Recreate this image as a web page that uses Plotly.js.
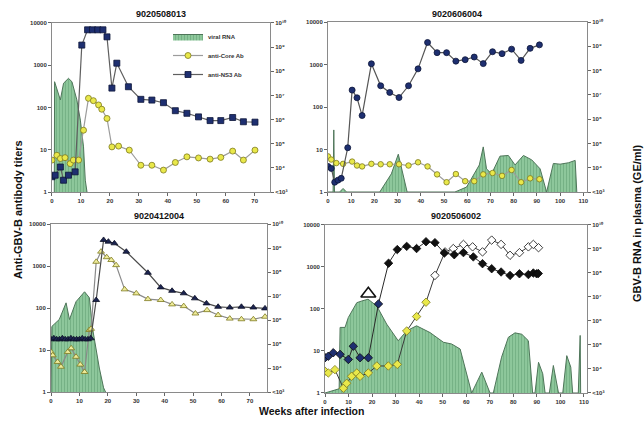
<!DOCTYPE html>
<html><head><meta charset="utf-8">
<script src="https://cdn.plot.ly/plotly-3.0.1.min.js"></script>
<style>html,body{margin:0;padding:0;background:#fff;} #chart{width:644px;height:425px;}</style>
</head><body><div id="chart"></div>
<script>
// ---------- Panel titles & ticks ----------
const panelTitles = ['9020508013', '9020606004', '9020412004', '9020506002'];
const abTickVals = [1, 10, 100, 1000, 10000];
const abTickText = ['1', '10', '100', '1000', '10000'];
const rnaTickVals = [1e3, 1e4, 1e5, 1e6, 1e7, 1e8, 1e9, 1e10];
const rnaTickText = ['<10³', '10⁴', '10⁵', '10⁶', '10⁷', '10⁸', '10⁹', '10¹⁰'];
const seriesNames = ['viral RNA', 'anti-Core Ab', 'anti-NS3 Ab'];

// ---------- 9020508013 (top left) ----------
const tlRnaWeeks = [0.8, 0.9, 2.9, 4, 5.7, 6.9, 8.6, 9.8, 10.9, 11.5, 12.1];
const tlRna      = [1e3, 3.7e7, 6.5e6, 3.2e7, 5.1e7, 3.7e7, 6.5e6, 9.5e5, 7.4e4, 3.1e3, 1e3];
const tlCoreWeeks = [0, 1.7, 2.9, 4.5, 6.3, 7.4, 9.2, 10.9, 12.6, 14.3, 16.1, 17.2, 19, 20.7, 23, 26.7, 30.7, 34.5, 38.5, 42.6, 46.6, 50.6, 54.6, 58.3, 62.4, 66.1, 70.1];
const tlCore      = [5.7, 7.4, 6.2, 6.5, 4.7, 5.7, 5.7, 29, 165, 145, 115, 91, 55, 11.7, 12.2, 9.8, 4.3, 4.3, 3.3, 5, 6.8, 6.4, 6, 6.6, 9.3, 5.7, 9.8];
const tlNs3Weeks = [0, 1.1, 2.9, 4, 5.7, 8, 10.3, 12.3, 14, 15.8, 17.6, 19, 20.7, 22.4, 26.4, 30.7, 34.5, 38.5, 42.6, 46.6, 50.6, 54.6, 58.3, 62.4, 66.1, 70.1];
const tlNs3      = [2.3, 2.5, 3.9, 1.9, 2.5, 3, 3000, 6900, 6900, 6900, 6900, 4700, 288, 1120, 310, 156, 150, 130, 84, 73, 60, 49, 49, 58, 46, 45];

// ---------- 9020606004 (top right) ----------
const trRnaWeeks = [0, 2.2, 2.5, 2.8, 5, 6.5, 8, 22.3, 27.3, 30.3, 34.1, 54.7, 59.7, 65.2, 66.9, 68.3, 70.5, 74.1, 77.7, 80.6, 84.2, 87.8, 91.4, 94.2, 97.1, 100, 103.6, 106.5, 107.2];
const trRna      = [1e3, 1e3, 3.6e5, 1e3, 1e3, 1.4e3, 1e3, 1e3, 5.6e3, 3.6e4, 1e3, 1e3, 1.6e3, 1.3e4, 7.2e4, 9e3, 5.6e3, 3e4, 3.2e4, 1.3e4, 3.2e4, 2.1e4, 9e3, 1e3, 1.5e4, 1.4e4, 1.6e4, 2e4, 1e3];
const trCoreWeeks = [0, 1.4, 3.6, 6.5, 10.4, 12.5, 14.7, 18.7, 22.7, 26.6, 30.6, 34.7, 38.8, 42.9, 47, 51.1, 55.1, 59.1, 63, 66.9, 70.9, 75, 79.1, 83.2, 87.1, 91.1];
const trCore      = [6.9, 5.8, 4.8, 4.6, 5.2, 4.2, 4, 4.6, 4.5, 4.5, 4.5, 4.2, 5, 4, 2.6, 1.7, 2.65, 1.8, 1.8, 2.6, 2.8, 2.4, 3.3, 1.7, 2.1, 2];
const trNs3Weeks = [0, 1.4, 2.9, 4.3, 5.7, 8.5, 10.4, 12.5, 14.7, 18.7, 22.7, 26.6, 30.6, 34.7, 38.8, 42.9, 47, 51.1, 55.1, 59.1, 63, 66.9, 70.9, 75, 79.1, 83.2, 87.1, 91.1];
const trNs3      = [4, 3.6, 1.7, 1.9, 2.1, 11, 250, 165, 63, 1040, 316, 220, 167, 316, 790, 3300, 1900, 1900, 1200, 1300, 1500, 1050, 2000, 1800, 2300, 1250, 2400, 2900];

// ---------- 9020412004 (bottom left) ----------
const blRnaWeeks = [0, 0.3, 2.9, 5.3, 6.5, 8.8, 11.8, 13.5, 14.7, 17, 18.5, 19.2];
const blRna      = [1e3, 5.4e5, 1.05e6, 5.2e6, 1.05e6, 5.8e6, 1.5e7, 8.5e6, 3.9e5, 1e4, 1.5e3, 1e3];
const blCoreWeeks = [0, 0.6, 2.3, 3.5, 5.9, 7.1, 8.8, 10.3, 11.8, 13.5, 14.1, 15.9, 17.6, 19.6, 21.2, 22.9, 25.9, 30, 34.1, 38.6, 42.6, 46.7, 50.8, 54.9, 58.8, 62.9, 67, 71.2, 75.3];
const blCore      = [9, 7.5, 5.2, 4, 9, 11, 6.9, 4.5, 3, 30, 32, 1260, 2200, 1620, 1390, 1050, 278, 223, 163, 155, 122, 111, 74, 89, 68, 56, 54, 54, 62];
const blNs3Weeks = [0, 1, 2, 3, 4, 5, 6, 7, 8, 9, 10, 11, 12, 13, 14, 15.9, 18.5, 20.2, 22.3, 26.5, 34.1, 38.6, 42.6, 46.7, 50.6, 54.7, 58.8, 62.9, 67, 71.2, 75.3];
const blNs3      = [18, 19, 18, 18, 19, 18, 18, 19, 18, 18, 18, 19, 18, 18, 19, 155, 4170, 3800, 3470, 2190, 690, 310, 257, 224, 170, 129, 107, 103, 107, 103, 98];

// ---------- 9020506002 (bottom right) ----------
const brRnaWeeks = [0, 6, 6.4, 8.5, 9.9, 13.5, 15.6, 18.3, 22, 26.2, 31.1, 34.7, 38.9, 44.6, 50.3, 53.8, 57.4, 60.2, 62.3, 66.6, 70.1, 71.5, 75, 77.9, 80.7, 83.6, 86.4, 88.2, 89.2, 90.7, 92.5, 93.5, 95.3, 97, 99.2, 101, 102.7, 104.4, 105.2, 107.6, 108.4, 108.6];
const brRna      = [1e3, 1.5e3, 5.4e5, 5.4e5, 1.4e6, 5.8e6, 6.8e6, 8.1e6, 4.2e6, 7.4e5, 1.5e5, 3.9e5, 6.3e5, 3.3e5, 1.3e5, 1.1e5, 6.8e4, 6.3e3, 1e3, 7.4e3, 1e3, 1e3, 3.1e4, 2.1e5, 3.2e5, 2.8e5, 1.5e5, 1e3, 1e3, 1.9e4, 6.3e3, 1e3, 1e3, 1.4e4, 1e3, 1e3, 3.6e4, 1.2e4, 1e3, 1e3, 2.5e5, 1e3];
const brCoreWeeks = [0, 1.4, 4.2, 7.8, 9.2, 11.3, 13.5, 14.9, 18.4, 22, 26.9, 30.7, 34.7, 38.9, 42.9, 46.7, 51, 54.5, 58.8, 62.7, 66.9, 70.8, 74.8, 78.6, 82.6, 86.4, 88.5, 90.7];
const brCore      = [3.3, 3, 3.6, 1.3, 1.7, 2.5, 3, 2.5, 3, 4.4, 4.4, 4.8, 30, 66, 145, 630, 2290, 2750, 3450, 3020, 2290, 4370, 3450, 1900, 2190, 3020, 3450, 2880];
const brNs3Weeks = [0, 1.4, 3.5, 6.4, 9.9, 12, 14.9, 18.4, 22.7, 27, 30.7, 34.7, 38.9, 42.9, 46.7, 50.7, 54.9, 58.8, 63, 66.9, 70.8, 74.8, 78.6, 82.6, 86.4, 88.5, 89.9, 90.6];
const brNs3      = [6.9, 7.5, 9.1, 8.3, 6.3, 13, 6.9, 6.9, 132, 1230, 2600, 3100, 2750, 4000, 3800, 2150, 1960, 2200, 1740, 1200, 910, 760, 630, 690, 660, 720, 690, 700];
const brMarkWeeks = [18.4];
const brMark      = [230];

// ---------- styling ----------
const FONT = 'Liberation Sans, Arial, Helvetica, sans-serif';
const GREEN = '#8dc79b', GREEN_LINE = '#4e7559';
const YEL = '#e9e84a', YEL_EDGE = '#7d7a1e';
const NAVY = '#1e2f70', NAVY_EDGE = '#0c1538';

function rnaTrace(x, y, xa, ya, showlegend) {
  return {type: 'scatter', mode: 'lines', x: x, y: y, xaxis: xa, yaxis: ya,
    fill: 'toself', fillcolor: GREEN,
    fillpattern: {shape: '|', fgcolor: '#6ea97d', bgcolor: GREEN, size: 3, solidity: 0.25},
    line: {color: GREEN_LINE, width: 1}, name: seriesNames[0], showlegend: showlegend,
    legendrank: 1, hoverinfo: 'skip'};
}
function abTrace(x, y, xa, ya, name, symbol, color, edge, lineColor, size, showlegend, rank) {
  return {type: 'scatter', mode: 'lines+markers', x: x, y: y, xaxis: xa, yaxis: ya,
    name: name, showlegend: showlegend, legendrank: rank,
    line: {color: lineColor, width: 1.2},
    marker: {symbol: symbol, size: size, color: color, line: {color: edge, width: 0.8}}};
}

const brNs3Colors = brNs3.map((v, i) => i < 9 ? NAVY : '#111');
const brCoreColors = brCore.map((v, i) => i < 15 ? YEL : '#ffffff');
const brCoreEdges = brCore.map((v, i) => i < 15 ? YEL_EDGE : '#111');

const data = [
  // top left
  rnaTrace(tlRnaWeeks, tlRna, 'x', 'y', true),
  abTrace(tlCoreWeeks, tlCore, 'x', 'y2', seriesNames[1], 'circle', YEL, YEL_EDGE, '#9c9c9c', 6, true, 2),
  abTrace(tlNs3Weeks, tlNs3, 'x', 'y2', seriesNames[2], 'square', NAVY, NAVY_EDGE, '#5f5f5f', 6, true, 3),
  // top right
  rnaTrace(trRnaWeeks, trRna, 'x2', 'y3', false),
  abTrace(trCoreWeeks, trCore, 'x2', 'y4', seriesNames[1], 'circle', YEL, YEL_EDGE, '#9c9c9c', 5.5, false, 2),
  abTrace(trNs3Weeks, trNs3, 'x2', 'y4', seriesNames[2], 'circle', NAVY, NAVY_EDGE, '#555', 6, false, 3),
  // bottom left
  rnaTrace(blRnaWeeks, blRna, 'x3', 'y5', false),
  abTrace(blCoreWeeks, blCore, 'x3', 'y6', seriesNames[1], 'triangle-up', '#eeeb9a', YEL_EDGE, '#8a8a8a', 6, false, 2),
  abTrace(blNs3Weeks, blNs3, 'x3', 'y6', seriesNames[2], 'triangle-up', '#1c2450', '#0b0f25', '#4a4a4a', 6, false, 3),
  // bottom right
  rnaTrace(brRnaWeeks, brRna, 'x4', 'y7', false),
  {type: 'scatter', mode: 'lines+markers', x: brCoreWeeks, y: brCore, xaxis: 'x4', yaxis: 'y8',
   name: seriesNames[1], showlegend: false, line: {color: '#3a3a3a', width: 1},
   marker: {symbol: 'diamond', size: 6.5, color: brCoreColors, line: {color: brCoreEdges, width: 0.8}}},
  {type: 'scatter', mode: 'lines+markers', x: brNs3Weeks, y: brNs3, xaxis: 'x4', yaxis: 'y8',
   name: seriesNames[2], showlegend: false, line: {color: '#2a2a2a', width: 1},
   marker: {symbol: 'diamond', size: 6.5, color: brNs3Colors, line: {color: '#0b0b0b', width: 0.8}}},
  {type: 'scatter', mode: 'markers', x: brMarkWeeks, y: brMark, xaxis: 'x4', yaxis: 'y8',
   showlegend: false, hoverinfo: 'skip',
   marker: {symbol: 'triangle-up', size: 13, color: '#ffffff', line: {color: '#111', width: 1.6}}}
];

const tickFont = {family: FONT, size: 6, color: '#333', weight: 'bold'};
function xAxis(domain, anchor, maxW) {
  return {domain: domain, anchor: anchor, range: [0, maxW], dtick: 10, tick0: 0,
    showgrid: false, zeroline: false, showline: true, mirror: true, linecolor: '#8a8a8a', linewidth: 1,
    ticks: 'outside', ticklen: 3, tickcolor: '#666', tickfont: tickFont};
}
function rnaAxis(domain, anchor) {
  return {domain: domain, anchor: anchor, side: 'right', type: 'log', range: [3, 10],
    tickvals: rnaTickVals, ticktext: rnaTickText, showgrid: false, zeroline: false,
    showline: true, linecolor: '#8a8a8a', linewidth: 1, ticks: 'outside', ticklen: 3, tickcolor: '#666',
    tickfont: tickFont};
}
function abAxis(over, anchor) {
  return {overlaying: over, anchor: anchor, side: 'left', type: 'log', range: [0, 4],
    tickvals: abTickVals, ticktext: abTickText, showgrid: false, zeroline: false,
    showline: true, linecolor: '#8a8a8a', linewidth: 1, ticks: 'outside', ticklen: 3, tickcolor: '#666',
    tickfont: tickFont};
}

const titleFont = {family: FONT, size: 9, color: '#111', weight: 'bold'};
const annotations = [
  {text: panelTitles[0], x: 161, y: 14},
  {text: panelTitles[1], x: 457, y: 14},
  {text: panelTitles[2], x: 159, y: 216},
  {text: panelTitles[3], x: 456, y: 216}
].map(a => ({text: a.text, xref: 'paper', yref: 'paper', x: a.x / 644, y: 1 - a.y / 425,
  showarrow: false, xanchor: 'center', yanchor: 'middle', font: titleFont}));

annotations.push(
  {text: 'Anti-GBV-B antibody titers', xref: 'paper', yref: 'paper', x: 18 / 644, y: 1 - 210 / 425,
   xanchor: 'center', yanchor: 'middle',
   textangle: -90, showarrow: false, font: {family: FONT, size: 11, color: '#111', weight: 'bold'}},
  {text: 'GBV-B RNA in plasma (GE/ml)', xref: 'paper', yref: 'paper', x: 637 / 644, y: 1 - 223 / 425,
   xanchor: 'center', yanchor: 'middle',
   textangle: -90, showarrow: false, font: {family: FONT, size: 11, color: '#111', weight: 'bold'}},
  {text: 'Weeks after infection', xref: 'paper', yref: 'paper', x: 311 / 644, y: 1 - 411 / 425,
   xanchor: 'center', yanchor: 'middle',
   showarrow: false, font: {family: FONT, size: 10.5, color: '#111', weight: 'bold'}}
);

const layout = {
  width: 644, height: 425, autosize: false,
  margin: {l: 0, r: 0, t: 0, b: 0},
  paper_bgcolor: '#ffffff', plot_bgcolor: '#ffffff',
  font: {family: FONT},
  showlegend: true,
  legend: {x: 168 / 644, y: 1 - 22 / 425, xanchor: 'left', yanchor: 'top',
    bgcolor: 'rgba(0,0,0,0)', borderwidth: 0, font: {family: FONT, size: 6, color: '#333', weight: 'bold'},
    itemwidth: 30, tracegroupgap: 0},
  xaxis: xAxis([0.0807, 0.4193], 'y', 75.3),
  yaxis: rnaAxis([0.5482, 0.9459], 'x'),
  yaxis2: abAxis('y', 'x'),
  xaxis2: xAxis([0.5093, 0.9115], 'y3', 111.6),
  yaxis3: rnaAxis([0.5482, 0.9482], 'x2'),
  yaxis4: abAxis('y3', 'x2'),
  xaxis3: xAxis([0.0792, 0.4146], 'y5', 76),
  yaxis5: rnaAxis([0.0776, 0.4729], 'x3'),
  yaxis6: abAxis('y5', 'x3'),
  xaxis4: xAxis([0.5047, 0.9115], 'y7', 111.3),
  yaxis7: rnaAxis([0.0753, 0.4706], 'x4'),
  yaxis8: abAxis('y7', 'x4'),
  annotations: annotations
};

Plotly.newPlot('chart', data, layout, {staticPlot: true, displayModeBar: false});
</script>
</body></html>
